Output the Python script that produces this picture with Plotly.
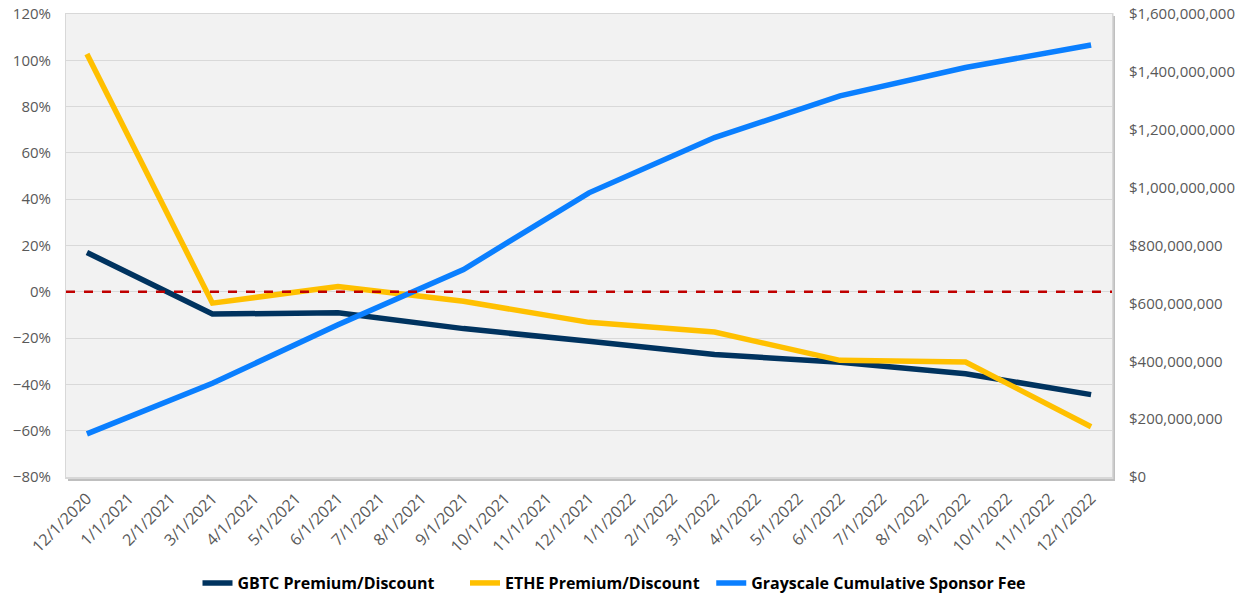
import plotly.graph_objects as go

months = ["12/1/2020", "1/1/2021", "2/1/2021", "3/1/2021", "4/1/2021", "5/1/2021",
          "6/1/2021", "7/1/2021", "8/1/2021", "9/1/2021", "10/1/2021", "11/1/2021",
          "12/1/2021", "1/1/2022", "2/1/2022", "3/1/2022", "4/1/2022", "5/1/2022",
          "6/1/2022", "7/1/2022", "8/1/2022", "9/1/2022", "10/1/2022", "11/1/2022",
          "12/1/2022"]

quarters = ["12/1/2020", "3/1/2021", "6/1/2021", "9/1/2021", "12/1/2021",
            "3/1/2022", "6/1/2022", "9/1/2022", "12/1/2022"]

gbtc = [17.0, -9.6, -9.1, -15.9, -21.4, -27.1, -30.4, -35.4, -44.4]
ethe = [102.7, -4.9, 2.3, -4.1, -13.2, -17.4, -29.6, -30.3, -58.3]
sponsor_fee = [149e6, 324e6, 526e6, 717e6, 982e6, 1173e6, 1317e6, 1415e6, 1493e6]

fig = go.Figure()
fig.add_trace(go.Scatter(x=quarters, y=gbtc, name="GBTC Premium/Discount",
                         mode="lines", line=dict(color="#00335F", width=5.5),
                         legend="legend"))
fig.add_trace(go.Scatter(x=quarters, y=ethe, name="ETHE Premium/Discount",
                         mode="lines", line=dict(color="#FFC000", width=5.5),
                         legend="legend2"))
fig.add_trace(go.Scatter(x=quarters, y=sponsor_fee, name="Grayscale Cumulative Sponsor Fee",
                         mode="lines", line=dict(color="#0A7FFF", width=5.5), yaxis="y2",
                         legend="legend3"))

W, H = 1046.0, 463.0
px_x = 1 / W
px_y = 1 / H
shapes = [
    # shadow
    dict(type="rect", xref="paper", yref="paper", layer="below",
         x0=2 * px_x, x1=1 + 3 * px_x, y0=-4 * px_y, y1=1 - 2 * px_y,
         fillcolor="#bfbfbf", line=dict(width=0)),
    dict(type="rect", xref="paper", yref="paper", layer="below",
         x0=-1 * px_x, x1=1 + 1.5 * px_x, y0=-2 * px_y, y1=1 + 1 * px_y,
         fillcolor="#d8d8d8", line=dict(width=0)),
    dict(type="rect", xref="paper", yref="paper", layer="below",
         x0=0, x1=1, y0=0, y1=1, fillcolor="#F2F2F2", line=dict(width=0)),
    # zero line
    dict(type="line", xref="paper", yref="y", x0=0, x1=1, y0=0, y1=0,
         line=dict(color="#C00000", width=2.5, dash="dash"), layer="above"),
]

tick_font = dict(family="Open Sans, Noto Sans, sans-serif", size=15, color="#595959")
legend_font = dict(family="Open Sans, Noto Sans, sans-serif", size=16, color="#000000",
                   weight="bold")


def legend_at(x):
    return dict(orientation="h", x=x, xref="container", xanchor="left",
                y=-0.229, yanchor="middle", font=legend_font, itemwidth=30,
                bgcolor="rgba(0,0,0,0)")


fig.update_layout(
    width=1250, height=594,
    margin=dict(l=66, r=138, t=14, b=117, autoexpand=False),
    paper_bgcolor="white",
    plot_bgcolor="rgba(0,0,0,0)",
    shapes=shapes,
    showlegend=True,
    legend=legend_at(0.158),
    legend2=legend_at(0.372),
    legend3=legend_at(0.569),
    xaxis=dict(type="category", categoryorder="array", categoryarray=months,
               tickvals=months, ticktext=months, range=[-0.5, 24.5],
               tickangle=-45, tickfont=dict(tick_font, size=16), showgrid=False, showline=False,
               zeroline=False, ticks="", automargin=False, ticklabelstandoff=8),
    yaxis=dict(range=[-80, 120], dtick=20, ticksuffix="%", tickfont=tick_font,
               showgrid=True, gridcolor="#D9D9D9", gridwidth=1, zeroline=False,
               showline=False, ticks="", ticklabelstandoff=14, automargin=False),
    yaxis2=dict(range=[0, 1.6e9], dtick=2e8, tickformat="$,.0f", tickfont=tick_font,
                overlaying="y", side="right", showgrid=False, zeroline=False,
                showline=False, ticks="", ticklabelstandoff=16, automargin=False),
)

fig.write_html("out.html")
